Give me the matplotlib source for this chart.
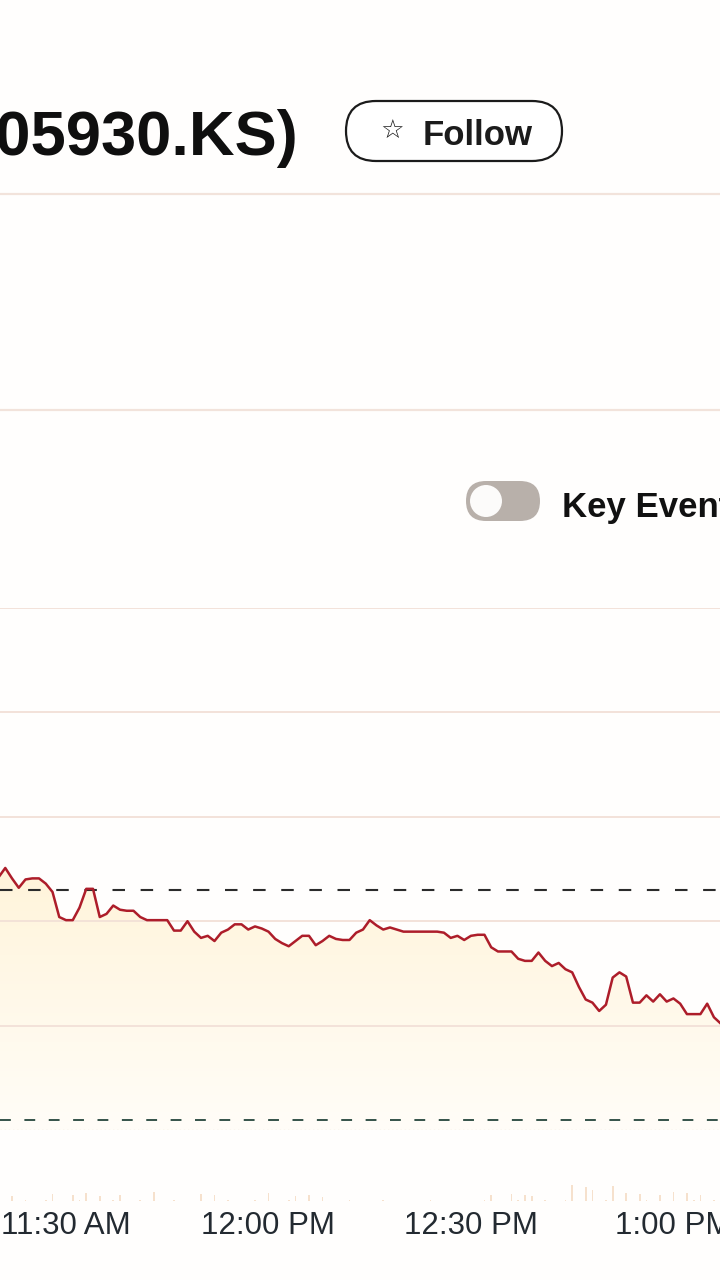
import numpy as np
import pandas as pd
import matplotlib.pyplot as plt
import matplotlib.dates as mdates
from matplotlib.patches import FancyBboxPatch, Circle
from matplotlib.colors import LinearSegmentedColormap

plt.rcParams['font.family'] = ['Liberation Sans', 'DejaVu Sans']

# intraday 1-minute prices (KRW), 11:20 -> 13:07
prices = [72420, 72510, 72410, 72320, 72400, 72410, 72410, 72360, 72280, 72040,
          72010, 72010, 72130, 72310, 72310, 72040, 72070, 72150, 72110, 72100,
          72100, 72040, 72010, 72010, 72010, 72010, 71910, 71910, 72000, 71900,
          71840, 71860, 71810, 71890, 71920, 71970, 71970, 71920, 71950, 71930,
          71900, 71830, 71790, 71760, 71810, 71860, 71860, 71770, 71810, 71860,
          71830, 71820, 71820, 71890, 71920, 72010, 71960, 71920, 71940, 71920,
          71900, 71900, 71900, 71900, 71900, 71900, 71890, 71840, 71860, 71820,
          71860, 71870, 71870, 71750, 71710, 71710, 71710, 71640, 71620, 71620,
          71700, 71620, 71570, 71600, 71540, 71510, 71370, 71250, 71220, 71140,
          71200, 71460, 71510, 71470, 71220, 71220, 71290, 71230, 71300, 71230,
          71260, 71210, 71110, 71110, 71110, 71210, 71080, 71020]

# volume per minute (thousand shares)
volume = [0, 0, 25, 0, 3, 0, 0, 3, 35, 0,
          0, 30, 3, 40, 0, 25, 0, 3, 30, 0,
          0, 3, 0, 45, 0, 0, 3, 0, 0, 0,
          35, 0, 30, 0, 3, 0, 0, 0, 3, 0,
          40, 0, 0, 3, 25, 0, 30, 0, 20, 0,
          0, 0, 3, 0, 0, 0, 0, 3, 0, 0,
          0, 0, 0, 0, 3, 0, 0, 0, 0, 0,
          0, 0, 3, 30, 0, 0, 35, 3, 30, 25,
          0, 3, 0, 0, 3, 80, 0, 70, 55, 0,
          3, 75, 0, 40, 0, 35, 3, 0, 30, 0,
          45, 0, 40, 3, 30, 0, 3, 0]

prev_close = 72300
low_ref = 70100
grid_levels = [71000, 72000, 73000, 74000, 75000]
tick_times = ["11:30", "12:00", "12:30", "13:00"]
tick_labels = ["11:30 AM", "12:00 PM", "12:30 PM", "1:00 PM"]

day = "2024-06-14 "
times = pd.date_range(day + "11:20", periods=len(prices), freq="min")
t0 = pd.Timestamp(day + "11:30")
xleft = t0 - pd.Timedelta(minutes=9.78)
xright = t0 + pd.Timedelta(minutes=96.9)

W, H = 720, 1280
fig = plt.figure(figsize=(7.2, 12.8), dpi=100)
fig.patch.set_facecolor('#fffefd')

# page decorations in pixel coords
bg = fig.add_axes([0, 0, 1, 1], zorder=0)
bg.set_xlim(0, W)
bg.set_ylim(H, 0)
bg.axis('off')
for y in [194, 410]:
    bg.axhline(y, color='#f2e3db', lw=1.6)

bg.text(299, 155, "(005930.KS)", ha='right', va='baseline', fontsize=45.5,
        fontweight='bold', color='#0f0f0f')
bg.add_patch(FancyBboxPatch((346, 101), 216, 60, boxstyle="round,pad=0,rounding_size=30",
                            fc='white', ec='#1b1b1b', lw=1.6))
bg.text(392, 132, "\u2606", ha='center', va='center', fontsize=19,
        family='DejaVu Sans', fontweight='bold', color='#1b1b1b')
bg.text(423, 145, "Follow", ha='left', va='baseline', fontsize=25,
        fontweight='bold', color='#1b1b1b')

bg.add_patch(FancyBboxPatch((466, 481), 74, 40, boxstyle="round,pad=0,rounding_size=20",
                            fc='#b8b0aa', ec='none'))
bg.add_patch(Circle((486, 501), 16, fc='#fcfbfa', ec='none'))
bg.text(562, 517, "Key Events", ha='left', va='baseline', fontsize=25,
        fontweight='bold', color='#111111')

# price chart
ax = fig.add_axes([0, 1 - 1130 / H, 1, (1130 - 608) / H], zorder=1)
ax.set_facecolor('none')

poly = ax.fill_between(times, prices, 70000, color='none', lw=0)
tnum = mdates.date2num(times)
cmap = LinearSegmentedColormap.from_list("fade", ['#fffdf8', '#fff4da'])
grad = np.linspace(0, 1, 256).reshape(-1, 1)
im = ax.imshow(grad, extent=[tnum[0], tnum[-1], 70000, max(prices)], origin='lower',
               aspect='auto', cmap=cmap, zorder=1)
im.set_clip_path(poly.get_paths()[0], transform=ax.transData)

for lvl in grid_levels:
    ax.axhline(lvl, color='#f2e0d7', lw=1.3, zorder=2)
ax.axhline(70000, color='#efdcd2', lw=1.0, linestyle=(0, (1, 2)), zorder=2)

ax.axhline(prev_close, color='#2b2b2b', lw=1.5, dashes=(6, 7.5), zorder=3)
ax.axhline(low_ref, color='#24453b', lw=1.3, dashes=(6, 7.5), zorder=3)

ax.plot(times, prices, color='#ad1d2a', lw=1.8, solid_joinstyle='round', zorder=4)

ax.set_xlim(xleft, xright)
ax.set_ylim(70000, 75000)
ax.set_yticks([])
ax.set_xticks(pd.to_datetime([day + t for t in tick_times]))
ax.set_xticklabels(tick_labels)
ax.tick_params(axis='x', length=0, pad=58, labelsize=22.5, labelcolor='#232a31')
for s in ax.spines.values():
    s.set_visible(False)

# faint volume bars
vax = fig.add_axes([0, 1 - 1201 / H, 1, 20 / H], zorder=1)
vax.set_facecolor('none')
vax.bar(times, volume, width=0.25 / 1440, color='#f1cfae', alpha=0.6)
vax.set_xlim(xleft, xright)
vax.set_ylim(0, 100)
vax.axis('off')

fig.savefig("out.png", dpi=100, facecolor=fig.get_facecolor())
